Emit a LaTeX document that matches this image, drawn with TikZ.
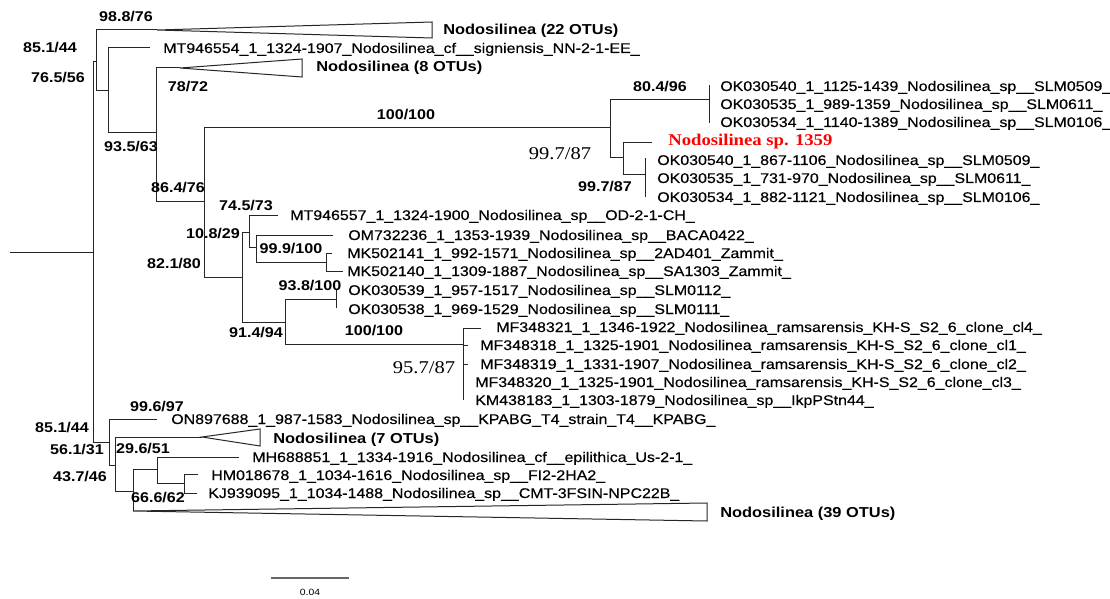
\documentclass[tikz,border=0pt]{standalone}
\usepackage{fontspec}
\newfontfamily\lsans[FakeStretch=1.14]{Liberation Sans}
\newfontfamily\lleaf[FakeStretch=1.14,FakeBold=0.35]{Liberation Sans}
\newfontfamily\lserif[FakeStretch=1.14]{Liberation Serif}
\begin{document}
\begin{tikzpicture}[x=0.75pt,y=-0.75pt,
  br/.style={draw=black!85, line width=0.75pt},
  leaf/.style={anchor=base west, inner sep=0pt, font=\lleaf\fontsize{10.5}{12}\selectfont},
  clade/.style={anchor=base west, inner sep=0pt, font=\lsans\bfseries\fontsize{10.8}{12}\selectfont},
  bs/.style={anchor=center, inner sep=0pt, text depth=0pt, font=\lsans\bfseries\fontsize{10.6}{12}\selectfont},
  bsser/.style={anchor=center, inner sep=0pt, text depth=0pt, font=\lserif\fontsize{13.5}{15}\selectfont},
  redleaf/.style={anchor=base west, inner sep=0pt, text=red, font=\lserif\bfseries\fontsize{12.3}{14}\selectfont}
]
\useasboundingbox (0,0) rectangle (1110,599);
% ---- internal nodes and tips
\coordinate (r0) at (10,252);
\coordinate (R) at (93,252);
\coordinate (A) at (96,62);
\coordinate (S) at (109,442);
\coordinate (t22) at (157,30);
\coordinate (B) at (108,91);
\coordinate (l2) at (150,48);
\coordinate (C) at (156,133);
\coordinate (t8) at (180,68);
\coordinate (D) at (204,202);
\coordinate (G) at (610,128);
\coordinate (L) at (242,277);
\coordinate (H) at (709,100);
\coordinate (l4) at (709,85);
\coordinate (l5) at (709,104);
\coordinate (l6) at (709,123);
\coordinate (I) at (623,158);
\coordinate (l7) at (652,143);
\coordinate (J) at (645,175);
\coordinate (l8) at (645,158);
\coordinate (l9) at (645,177);
\coordinate (l10) at (645,197);
\coordinate (K) at (249,232);
\coordinate (l11) at (278,215);
\coordinate (M) at (256,247);
\coordinate (l12) at (333,235);
\coordinate (N) at (326,262);
\coordinate (l13) at (332,253);
\coordinate (l14) at (343,271);
\coordinate (P) at (285,322);
\coordinate (O) at (336,299);
\coordinate (l15) at (336,289);
\coordinate (l16) at (336,308);
\coordinate (Q) at (463,344);
\coordinate (l17) at (481,328);
\coordinate (l18) at (468,345);
\coordinate (l19) at (468,364);
\coordinate (l20) at (463,382);
\coordinate (l21) at (463,400);
\coordinate (T) at (115,465);
\coordinate (l22) at (157,419);
\coordinate (t7) at (202,437);
\coordinate (U) at (133,491);
\coordinate (V) at (157,469);
\coordinate (t39) at (133,511);
\coordinate (l24) at (239,457);
\coordinate (W) at (184,483);
\coordinate (l25) at (198,474);
\coordinate (l26) at (197,493);
% ---- branches
\draw[br] (r0) -- (R);
\draw[br] (R) |- (A);
\draw[br] (R) |- (S);
\draw[br] (A) |- (t22);
\draw[br] (A) |- (B);
\draw[br] (B) |- (l2);
\draw[br] (B) |- (C);
\draw[br] (C) |- (t8);
\draw[br] (C) |- (D);
\draw[br] (D) |- (G);
\draw[br] (D) |- (L);
\draw[br] (G) |- (H);
\draw[br] (G) |- (I);
\draw[br] (H) |- (l4);
\draw[br] (H) |- (l5);
\draw[br] (H) |- (l6);
\draw[br] (I) |- (l7);
\draw[br] (I) |- (J);
\draw[br] (J) |- (l8);
\draw[br] (J) |- (l9);
\draw[br] (J) |- (l10);
\draw[br] (L) |- (K);
\draw[br] (L) |- (P);
\draw[br] (K) |- (l11);
\draw[br] (K) |- (M);
\draw[br] (M) |- (l12);
\draw[br] (M) |- (N);
\draw[br] (N) |- (l13);
\draw[br] (N) |- (l14);
\draw[br] (P) |- (O);
\draw[br] (P) |- (Q);
\draw[br] (O) |- (l15);
\draw[br] (O) |- (l16);
\draw[br] (Q) |- (l17);
\draw[br] (Q) |- (l18);
\draw[br] (Q) |- (l19);
\draw[br] (Q) |- (l20);
\draw[br] (Q) |- (l21);
\draw[br] (S) |- (l22);
\draw[br] (S) |- (T);
\draw[br] (T) |- (t7);
\draw[br] (T) |- (U);
\draw[br] (U) |- (V);
\draw[br] (U) |- (t39);
\draw[br] (V) |- (l24);
\draw[br] (V) |- (W);
\draw[br] (W) |- (l25);
\draw[br] (W) |- (l26);
% ---- collapsed clades
\draw[br] (t22) -- (432,22) -- (432,38) -- cycle;
\draw[br] (t8) -- (302,59) -- (302,77) -- cycle;
\draw[br] (t7) -- (260,429) -- (260,446) -- cycle;
\draw[br] (t39) -- (707,503) -- (707,521) -- cycle;
% ---- tip labels
\node[clade] (c22) at (443,35) {Nodosilinea (22 OTUs)};
\node[leaf] (n2) at (163,53) {MT946554\_1\_1324-1907\_Nodosilinea\_cf\_\_signiensis\_NN-2-1-EE\_};
\node[clade] (c8) at (316,72) {Nodosilinea (8 OTUs)};
\node[leaf] (n4) at (720,91) {OK030540\_1\_1125-1439\_Nodosilinea\_sp\_\_SLM0509\_};
\node[leaf] (n5) at (720,109) {OK030535\_1\_989-1359\_Nodosilinea\_sp\_\_SLM0611\_};
\node[leaf] (n6) at (720,127) {OK030534\_1\_1140-1389\_Nodosilinea\_sp\_\_SLM0106\_};
\node[redleaf] (n7) at (668,146) {Nodosilinea sp. 1359};
\node[leaf] (n8) at (657,165) {OK030540\_1\_867-1106\_Nodosilinea\_sp\_\_SLM0509\_};
\node[leaf] (n9) at (657,183) {OK030535\_1\_731-970\_Nodosilinea\_sp\_\_SLM0611\_};
\node[leaf] (n10) at (657,202) {OK030534\_1\_882-1121\_Nodosilinea\_sp\_\_SLM0106\_};
\node[leaf] (n11) at (290,220) {MT946557\_1\_1324-1900\_Nodosilinea\_sp\_\_OD-2-1-CH\_};
\node[leaf] (n12) at (348,240) {OM732236\_1\_1353-1939\_Nodosilinea\_sp\_\_BACA0422\_};
\node[leaf] (n13) at (347,258) {MK502141\_1\_992-1571\_Nodosilinea\_sp\_\_2AD401\_Zammit\_};
\node[leaf] (n14) at (347,276) {MK502140\_1\_1309-1887\_Nodosilinea\_sp\_\_SA1303\_Zammit\_};
\node[leaf] (n15) at (348,295) {OK030539\_1\_957-1517\_Nodosilinea\_sp\_\_SLM0112\_};
\node[leaf] (n16) at (348,314) {OK030538\_1\_969-1529\_Nodosilinea\_sp\_\_SLM0111\_};
\node[leaf] (n17) at (496,332) {MF348321\_1\_1346-1922\_Nodosilinea\_ramsarensis\_KH-S\_S2\_6\_clone\_cl4\_};
\node[leaf] (n18) at (480,350) {MF348318\_1\_1325-1901\_Nodosilinea\_ramsarensis\_KH-S\_S2\_6\_clone\_cl1\_};
\node[leaf] (n19) at (480,369) {MF348319\_1\_1331-1907\_Nodosilinea\_ramsarensis\_KH-S\_S2\_6\_clone\_cl2\_};
\node[leaf] (n20) at (475,387) {MF348320\_1\_1325-1901\_Nodosilinea\_ramsarensis\_KH-S\_S2\_6\_clone\_cl3\_};
\node[leaf] (n21) at (475,405) {KM438183\_1\_1303-1879\_Nodosilinea\_sp\_\_IkpPStn44\_};
\node[leaf] (n22) at (171,424) {ON897688\_1\_987-1583\_Nodosilinea\_sp\_\_KPABG\_T4\_strain\_T4\_\_KPABG\_};
\node[clade] (c7) at (273,443) {Nodosilinea (7 OTUs)};
\node[leaf] (n24) at (252,462) {MH688851\_1\_1334-1916\_Nodosilinea\_cf\_\_epilithica\_Us-2-1\_};
\node[leaf] (n25) at (211,480) {HM018678\_1\_1034-1616\_Nodosilinea\_sp\_\_FI2-2HA2\_};
\node[leaf] (n26) at (208,498) {KJ939095\_1\_1034-1488\_Nodosilinea\_sp\_\_CMT-3FSIN-NPC22B\_};
\node[clade] (c39) at (720,517) {Nodosilinea (39 OTUs)};
% ---- support values
\node[bs] (b1) at (126,16) {98.8/76};
\node[bs] (b2) at (50,47) {85.1/44};
\node[bs] (b3) at (58,77) {76.5/56};
\node[bs] (b4) at (188,86) {78/72};
\node[bs] (b5) at (406,114) {100/100};
\node[bs] (b6) at (131,146) {93.5/63};
\node[bs] (b7) at (660,86) {80.4/96};
\node[bsser] (b8) at (560,154) {99.7/87};
\node[bs] (b9) at (605,186) {99.7/87};
\node[bs] (b10) at (178,187) {86.4/76};
\node[bs] (b11) at (246,205) {74.5/73};
\node[bs] (b12) at (213,233) {10.8/29};
\node[bs] (b13) at (291,248) {99.9/100};
\node[bs] (b14) at (174,263) {82.1/80};
\node[bs] (b15) at (310,285) {93.8/100};
\node[bs] (b16) at (374,330) {100/100};
\node[bs] (b17) at (256,332) {91.4/94};
\node[bsser] (b18) at (424,368) {95.7/87};
\node[bs] (b19) at (157,406) {99.6/97};
\node[bs] (b20) at (62,427) {85.1/44};
\node[bs] (b21) at (77,449) {56.1/31};
\node[bs] (b22) at (143,448) {29.6/51};
\node[bs] (b23) at (80,476) {43.7/46};
\node[bs] (b24) at (158,497) {66.6/62};
% ---- scale bar
\coordinate (sb1) at (271,578);
\coordinate (sb2) at (349,578);
\draw[draw=black!60, line width=0.9pt] (sb1) -- (sb2);
\node[anchor=center, inner sep=0pt, font=\lsans\fontsize{6.8}{8}\selectfont] (sbl) at (310,592) {0.04};
\end{tikzpicture}
\end{document}
